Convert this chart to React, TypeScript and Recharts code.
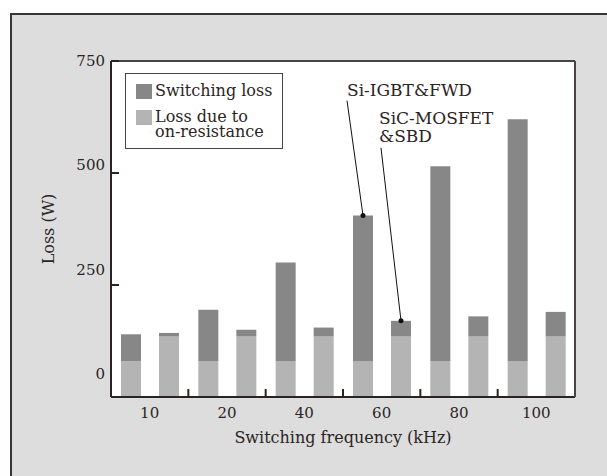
import { BarChart, Bar, XAxis, YAxis, CartesianGrid, Legend } from "recharts";

const freqs = ["10", "20", "40", "60", "80", "100"];
const siOnResistance = [80, 80, 80, 80, 80, 80];
const siSwitching = [60, 115, 220, 325, 435, 540];
const sicOnResistance = [135, 135, 135, 135, 135, 135];
const sicSwitching = [8, 15, 20, 35, 45, 55];
const yTicks = [0, 250, 500, 750];
const seriesNames = { switching: "Switching loss", onResistance: "Loss due to\non-resistance" };
const siNote = { freq: "60", lines: ["Si-IGBT&FWD"] };
const sicNote = { freq: "60", lines: ["SiC-MOSFET", "&SBD"] };

const data = freqs.map((freq, i) => ({
  freq,
  siOn: siOnResistance[i],
  siSw: siSwitching[i],
  sicOn: sicOnResistance[i],
  sicSw: sicSwitching[i],
}));

const DARK = "#878787";
const LIGHT = "#b4b4b4";
const INK = "#2b2424";
const FONT = "'DejaVu Serif', serif";
const X_TICK_MARGIN = 10;

// annotation pointing at the top of one bar, text offset up and to the left
function noteLabel(note: { freq: string; lines: string[] }, textDx: number, textDy: number, lineDx: number, lineDy: number) {
  return (props: any) => {
    if (freqs[props.index] !== note.freq) return null;
    const vb = props.viewBox ?? props;
    const cx = vb.x + vb.width / 2;
    const top = vb.y;
    return (
      <g>
        <line x1={cx} y1={top} x2={cx + lineDx} y2={top + lineDy} stroke="#111" strokeWidth={1} />
        <circle cx={cx} cy={top} r={2.5} fill="#111" />
        {note.lines.map((l, k) => (
          <text key={k} x={cx + textDx} y={top + textDy + k * 18} fontSize={17} fontFamily={FONT} fill={INK}>
            {l}
          </text>
        ))}
      </g>
    );
  };
}

const siLabel = noteLabel(siNote, -16, -120, -16, -115);
const sicLabel = noteLabel(sicNote, -22, -197, -20, -173);

function FreqTick({ x, y, payload, index }: any) {
  const axisY = y - X_TICK_MARGIN;
  const edge = x + (payload.offset ?? 0);
  return (
    <g>
      <text x={x} y={y} dy="0.71em" textAnchor="middle" fontSize={15} fontFamily={FONT} fill={INK}>
        {payload.value}
      </text>
      {index < freqs.length - 1 && <line x1={edge} x2={edge} y1={axisY} y2={axisY - 8} stroke={INK} strokeWidth={2} />}
    </g>
  );
}

function LossTick({ x, y }: any) {
  return <line x1={x} x2={x + 8} y1={y} y2={y} stroke={INK} strokeWidth={2} />;
}

function LegendBox({ payload }: any) {
  const order = [seriesNames.switching, seriesNames.onResistance];
  const items = order.map((n) => (payload ?? []).find((p: any) => p.value === n)).filter(Boolean);
  return (
    <div
      style={{
        boxSizing: "border-box",
        width: 158,
        height: 76,
        border: "1px solid #444",
        background: "#fff",
        padding: "10px 4px 0 10px",
        fontFamily: FONT,
        fontSize: 16,
        lineHeight: "14.5px",
        color: INK,
        textAlign: "left",
      }}
    >
      {items.map((p: any, i: number) => (
        <div key={p.value} style={{ display: "flex", alignItems: "flex-start", marginBottom: i === 0 ? 11 : 0 }}>
          <span style={{ width: 16, height: 15, background: p.color, marginRight: 3, flex: "none" }} />
          <span style={{ whiteSpace: "pre" }}>{p.value}</span>
        </div>
      ))}
    </div>
  );
}

export default function App() {
  return (
    <div style={{ position: "absolute", left: 0, top: 0, width: 607, height: 476, background: "#fff", overflow: "hidden" }}>
      <div
        style={{
          position: "absolute",
          left: 10,
          top: 13,
          width: 640,
          height: 500,
          background: "#dcdddc",
          borderLeft: "2px solid #3a3333",
          borderTop: "2px solid #3a3333",
        }}
      />
      <div style={{ position: "absolute", left: 0, top: 0 }}>
        <BarChart
          width={607}
          height={476}
          data={data}
          margin={{ top: 60, right: 31, bottom: 29, left: 41 }}
          barSize={20}
          barGap={18}
          style={{ fontFamily: FONT }}
        >
          <CartesianGrid horizontal={false} vertical={false} fill="#fff" />
          <XAxis
            dataKey="freq"
            interval={0}
            height={50}
            tickSize={0}
            tickMargin={X_TICK_MARGIN}
            tickLine={false}
            tick={<FreqTick />}
            axisLine={{ stroke: INK, strokeWidth: 2 }}
            label={{ value: "Switching frequency (kHz)", position: "insideBottom", offset: 4, fontSize: 16, fill: INK, fontFamily: FONT }}
          />
          <XAxis xAxisId="t" orientation="top" dataKey="freq" height={1} tick={false} tickLine={false} axisLine={{ stroke: "#4a4444", strokeWidth: 2 }} />
          <YAxis
            domain={[0, 750]}
            ticks={yTicks}
            width={2}
            tickSize={0}
            tickMargin={0}
            tickLine={false}
            tick={<LossTick />}
            axisLine={{ stroke: INK, strokeWidth: 2 }}
          />
          <YAxis
            yAxisId="lab"
            type="number"
            domain={[-57, 750]}
            allowDataOverflow
            ticks={yTicks}
            width={68}
            tickSize={0}
            tickMargin={4}
            tickLine={false}
            axisLine={false}
            tick={{ fontSize: 15, fill: INK, fontFamily: FONT }}
            label={{ value: "Loss (W)", angle: -90, position: "insideLeft", offset: 7, fontSize: 16, fill: INK, fontFamily: FONT, style: { textAnchor: "middle" } }}
          />
          <YAxis yAxisId="r" orientation="right" domain={[0, 750]} width={1} tick={false} tickLine={false} axisLine={{ stroke: "#4a4444", strokeWidth: 2 }} />
          <Legend
            layout="horizontal"
            align="center"
            verticalAlign="middle"
            content={<LegendBox />}
            wrapperStyle={{ left: 125, top: 73, width: 158 }}
          />
          <Bar dataKey="siOn" stackId="si" fill={LIGHT} name={seriesNames.onResistance} isAnimationActive={false} />
          <Bar dataKey="siSw" stackId="si" fill={DARK} name={seriesNames.switching} isAnimationActive={false} label={siLabel} />
          <Bar dataKey="sicOn" stackId="sic" fill={LIGHT} legendType="none" isAnimationActive={false} />
          <Bar dataKey="sicSw" stackId="sic" fill={DARK} legendType="none" isAnimationActive={false} label={sicLabel} />
        </BarChart>
      </div>
    </div>
  );
}
